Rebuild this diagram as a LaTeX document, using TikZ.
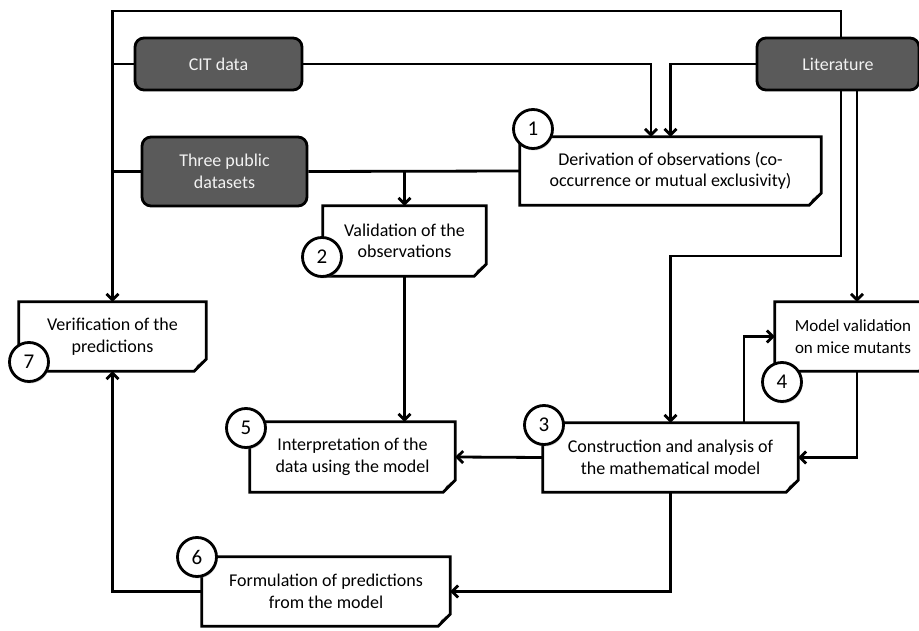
\documentclass[tikz,border=0pt]{standalone}
\usepackage{fontspec}
\setmainfont{Carlito}
\usetikzlibrary{arrows.meta,shadows}
\definecolor{darkbox}{RGB}{90,90,90}
\pgfdeclarelayer{bg}\pgfdeclarelayer{fg}\pgfsetlayers{bg,main,fg}
\tikzset{
 txt/.style={font=\fontsize{18}{21.5}\selectfont, align=center, inner sep=0pt},
 src/.style={txt, rounded corners=9pt, fill=darkbox, draw=black, line width=2.8pt, text=white!95!black},
 doc/.style={txt, draw=none},
 frame/.style={draw=black, fill=white, line width=2.8pt, line join=miter},
 conn/.style={line width=2.8pt},
 arr/.style={conn, -{Straight Barb[length=6pt,width=12pt]}},
 num/.style={circle, draw=black, fill=white, line width=2.8pt, minimum size=39pt, inner sep=0pt,
   font=\fontsize{21}{21}\selectfont, drop shadow={shadow xshift=1pt,shadow yshift=-2pt,opacity=0.3}},
}
\newcommand\docframe[1]{%
 \begin{pgfonlayer}{bg}
 \draw[frame] (#1.north west) -- (#1.north east) -- ([yshift=12pt]#1.south east)
   -- ([xshift=-12pt]#1.south east) -- (#1.south west) -- cycle;
 \fill ([xshift=-11pt,yshift=1pt]#1.south east) .. controls ([xshift=-9pt,yshift=7pt]#1.south east)
   .. ([xshift=-1pt,yshift=11pt]#1.south east)
   .. controls ([xshift=-6pt,yshift=10pt]#1.south east) and ([xshift=-9pt,yshift=6pt]#1.south east)
   .. cycle;
 \end{pgfonlayer}}
\begin{document}
\begin{tikzpicture}[x=1pt,y=-1pt]
\clip (0,0) rectangle (919,631);
\useasboundingbox (0,0) rectangle (919,631);

% source boxes
\node[src, minimum width=167pt, minimum height=52pt] (cit) at (218.5,64) {CIT data};
\node[src, minimum width=162pt, minimum height=52pt] (lit) at (838,64) {Literature};
\node[src, minimum width=165pt, minimum height=69pt] (pub) at (224.5,171.5) {Three public\\datasets};

% document boxes
\node[doc, minimum width=301pt, minimum height=68pt] (n1) at (670.5,171) {Derivation of observations (co-\\occurrence or mutual exclusivity)};
\node[doc, minimum width=163pt, minimum height=70pt] (n2) at (404.5,241) {Validation of the\\observations};
\node[doc, minimum width=255pt, minimum height=69pt] (n3) at (670.5,457.5) {Construction and analysis of\\the mathematical model};
\node[doc, minimum width=156pt, minimum height=69pt, font=\fontsize{17}{21.5}\selectfont] (n4) at (853,336.5) {Model validation\\on mice mutants};
\node[doc, minimum width=205pt, minimum height=70pt] (n5) at (352.5,457) {Interpretation of the\\data using the model};
\node[doc, minimum width=248pt, minimum height=69pt] (n6) at (326,591.5) {Formulation of predictions\\from the model};
\node[doc, minimum width=187pt, minimum height=69pt] (n7) at (112.5,336.5) {Verification of the\\predictions};
\foreach \n in {n1,n2,n3,n4,n5,n6,n7} {\docframe{\n}}

% connectors
\coordinate (topy) at (0,11);
\coordinate (bend3) at (670.5,256);
\draw[arr] ([xshift=3pt]lit.north) |- (n7.north |- topy) -- (n7.north);
\draw[conn] (cit.west) -- (cit.west -| n7.north);
\draw[conn] (pub.west) -- (pub.west -| n7.north);
\draw[arr] (cit.east) -| ([xshift=-19.5pt]n1.north);
\draw[arr] (lit.west) -| (n1.north);
\draw[conn] (pub.east) -- (n1.west);
\draw[arr] (n2.north |- pub.east) -- (n2.north);
\draw[arr] (n2.south) -- (n2.south |- n5.north);
\draw[arr] ([xshift=3pt]lit.south) |- (bend3) -- (n3.north);
\draw[arr] ([xshift=19pt]lit.south) -- ([xshift=19pt]lit.south |- n4.north);
\draw[arr] ([xshift=73.5pt]n3.north) |- (n4.west);
\draw[arr] ([xshift=4pt]n4.south) |- (n3.east);
\draw[arr] (n3.west) -- (n5.east);
\draw[arr] (n3.south) |- (n6.east);
\draw[arr] (n6.west) -| (n7.south);

% number circles
\begin{pgfonlayer}{fg}
\node[num] (c1) at (533,129) {1};
\node[num] (c2) at (322,257) {2};
\node[num] (c3) at (544,425) {3};
\node[num] (c4) at (782,382) {4};
\node[num] (c5) at (246,428) {5};
\node[num] (c6) at (197,557) {6};
\node[num] (c7) at (29,362) {7};
\end{pgfonlayer}
\end{tikzpicture}
\end{document}
